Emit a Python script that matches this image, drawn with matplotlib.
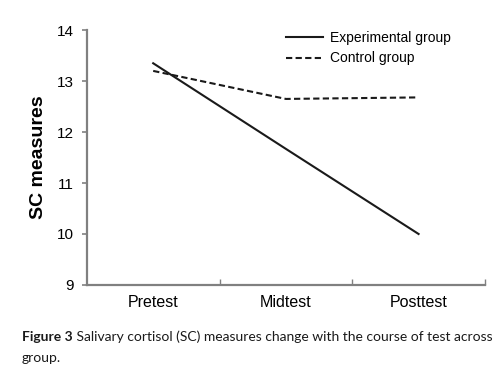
import numpy as np
import matplotlib
matplotlib.use('Agg')
import matplotlib.pyplot as plt
from matplotlib.ticker import FixedLocator

# data
phases = ['Pretest', 'Midtest', 'Posttest']
experimental = [13.35, 11.67, 10.0]
control = [13.2, 12.65, 12.68]
yticks = [9, 10, 11, 12, 13, 14]

plt.rcParams['font.family'] = ['Liberation Sans', 'DejaVu Sans']

fig = plt.figure(figsize=(5.02, 3.72), dpi=100)
ax = fig.add_axes([0.173, 0.234, 0.793, 0.685])

x = np.arange(len(phases))
ax.plot(x, experimental, color='#1a1a1a', lw=1.5, ls='-', label='Experimental group')
ax.plot(x, control, color='#1a1a1a', lw=1.5, ls=(0, (3, 1.6)), label='Control group')

ax.set_xlim(-0.5, 2.5)
ax.set_ylim(9, 14)
ax.set_yticks(yticks)
ax.set_xticks(x)
ax.set_xticklabels(phases, fontsize=11.5)
ax.xaxis.set_minor_locator(FixedLocator([0.5, 1.5, 2.5]))
ax.tick_params(axis='x', which='major', length=0, pad=7)
ax.tick_params(axis='x', which='minor', length=4, direction='in', color='#808080', width=1)
ax.tick_params(axis='y', length=3.6, direction='out', color='#808080', width=1.2, labelsize=11, pad=6)

for side in ['top', 'right']:
    ax.spines[side].set_visible(False)
for side in ['left', 'bottom']:
    ax.spines[side].set_color('#808080')
    ax.spines[side].set_linewidth(1.6)

ax.set_ylabel('SC measures', fontsize=14, fontweight='bold', labelpad=7)

leg = ax.legend(loc='upper left', bbox_to_anchor=(0.47, 1.045), frameon=False,
                fontsize=10, handlelength=2.6, handletextpad=0.5, labelspacing=0.45)

# caption
cap1 = fig.text(0.044, 0.082, 'Figure 3', fontsize=10, fontweight='bold',
                family=['Lato', 'DejaVu Sans'], color='#1a1a1a')
ax.annotate(' Salivary cortisol (SC) measures change with the course of test across',
            xy=(1, 0), xycoords=cap1, va='bottom', ha='left', fontsize=10,
            family=['Lato', 'DejaVu Sans'], color='#1a1a1a', annotation_clip=False)
fig.text(0.044, 0.028, 'group.', fontsize=10, family=['Lato', 'DejaVu Sans'], color='#1a1a1a')

fig.savefig('out.png', dpi=100)
